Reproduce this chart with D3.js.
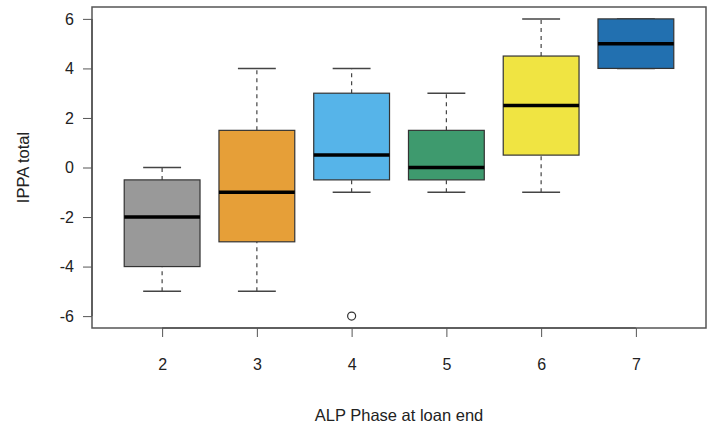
<!DOCTYPE html>
<html>
<head>
<meta charset="utf-8">
<script src="https://cdn.jsdelivr.net/npm/d3@7"></script>
<style>
  body { margin: 0; background: #fff; }
  text { font-family: "Liberation Sans", Arial, sans-serif; fill: #222; }
</style>
</head>
<body>
<script>
// boxplot of IPPA total by ALP phase

var phases = ["2", "3", "4", "5", "6", "7"];
var lowWhisker = [-5, -5, -1, -1, -1, 4];
var q1 = [-4, -3, -0.5, -0.5, 0.5, 4];
var medians = [-2, -1, 0.5, 0, 2.5, 5];
var q3 = [-0.5, 1.5, 3, 1.5, 4.5, 6];
var highWhisker = [0, 4, 4, 3, 6, 6];
var outliers = [{phase: 3, value: -6}]; // 1-based position on the x axis
var colors = ["#999999", "#E69F38", "#56B4E9", "#3E9A6E", "#F0E442", "#2270B0"];
var yTicks = [-6, -4, -2, 0, 2, 4, 6];

window.onload = function(){

  var w = 714, h = 432;
  // plot frame edges
  var pLeft = 92, pRight = 706, pTop = 7, pBottom = 328;

  var svg = d3.select("body").append("svg")
    .attr("width", w)
    .attr("height", h);

  // R style: positions 1..n, range extended 4% each side
  var x = d3.scaleLinear().domain([0.26, 6.74]).range([pLeft, pRight]);
  var y = d3.scaleLinear().domain([-6.48, 6.48]).range([pBottom, pTop]);

  var boxW = x(0.8) - x(0);
  var capW = x(0.4) - x(0);

  var groups = svg.selectAll("g.box")
    .data(phases)
    .enter().append("g")
    .attr("class", "box");

  // whiskers
  [[lowWhisker, q1], [q3, highWhisker]].forEach(function(pair){
    groups.append("line")
      .attr("x1", function(d, i){ return x(i + 1); })
      .attr("x2", function(d, i){ return x(i + 1); })
      .attr("y1", function(d, i){ return y(pair[0][i]); })
      .attr("y2", function(d, i){ return y(pair[1][i]); })
      .attr("stroke", "#444").attr("stroke-width", 1.2)
      .attr("stroke-dasharray", "4,4");
  });

  // caps
  [lowWhisker, highWhisker].forEach(function(arr){
    groups.append("line")
      .attr("x1", function(d, i){ return x(i + 1) - capW / 2; })
      .attr("x2", function(d, i){ return x(i + 1) + capW / 2; })
      .attr("y1", function(d, i){ return y(arr[i]); })
      .attr("y2", function(d, i){ return y(arr[i]); })
      .attr("stroke", "#444").attr("stroke-width", 1.5);
  });

  // boxes
  groups.append("rect")
    .attr("x", function(d, i){ return x(i + 1) - boxW / 2; })
    .attr("width", boxW)
    .attr("y", function(d, i){ return y(q3[i]); })
    .attr("height", function(d, i){ return y(q1[i]) - y(q3[i]); })
    .attr("fill", function(d, i){ return colors[i]; })
    .attr("stroke", "#333").attr("stroke-width", 1.2);

  // medians
  groups.append("line")
    .attr("x1", function(d, i){ return x(i + 1) - boxW / 2; })
    .attr("x2", function(d, i){ return x(i + 1) + boxW / 2; })
    .attr("y1", function(d, i){ return y(medians[i]); })
    .attr("y2", function(d, i){ return y(medians[i]); })
    .attr("stroke", "#000").attr("stroke-width", 3.5);

  // outliers
  svg.selectAll("circle.out")
    .data(outliers)
    .enter().append("circle")
    .attr("class", "out")
    .attr("cx", function(d){ return x(d.phase); })
    .attr("cy", function(d){ return y(d.value); })
    .attr("r", 4)
    .attr("fill", "none")
    .attr("stroke", "#333").attr("stroke-width", 1.2);

  // frame
  svg.append("rect")
    .attr("x", pLeft).attr("y", pTop)
    .attr("width", pRight - pLeft).attr("height", pBottom - pTop)
    .attr("fill", "none")
    .attr("stroke", "#555").attr("stroke-width", 1.5);

  // axes (plain hyphen for negatives, like R)
  var yAxis = d3.axisLeft(y).tickValues(yTicks).tickSize(9).tickPadding(9)
    .tickFormat(function(d){ return String(d); });
  svg.append("g")
    .attr("transform", "translate(" + pLeft + ",0)")
    .call(yAxis)
    .call(function(g){
      g.select(".domain").attr("d", "M0," + y(-6) + "V" + y(6)).attr("stroke", "#555").attr("stroke-width", 1.5);
      g.selectAll(".tick line").attr("stroke", "#555");
      g.selectAll("text").style("font-size", "16px").attr("fill", "#222");
    });

  var xAxis = d3.axisBottom(x).tickValues(d3.range(1, phases.length + 1))
    .tickSize(9).tickPadding(22)
    .tickFormat(function(d){ return phases[d - 1]; });
  svg.append("g")
    .attr("transform", "translate(0," + pBottom + ")")
    .call(xAxis)
    .call(function(g){
      g.select(".domain").attr("d", "M" + x(1) + ",0H" + x(6)).attr("stroke", "#555").attr("stroke-width", 1.5);
      g.selectAll(".tick line").attr("stroke", "#555");
      g.selectAll("text").style("font-size", "16px").attr("fill", "#222");
    });

  // titles
  svg.append("text")
    .attr("x", (pLeft + pRight) / 2)
    .attr("y", 421)
    .attr("text-anchor", "middle")
    .style("font-size", "16.5px")
    .text("ALP Phase at loan end");

  svg.append("text")
    .attr("transform", "translate(29," + y(0) + ") rotate(-90)")
    .attr("text-anchor", "middle")
    .style("font-size", "16.5px")
    .text("IPPA total");
};
</script>
</body>
</html>
